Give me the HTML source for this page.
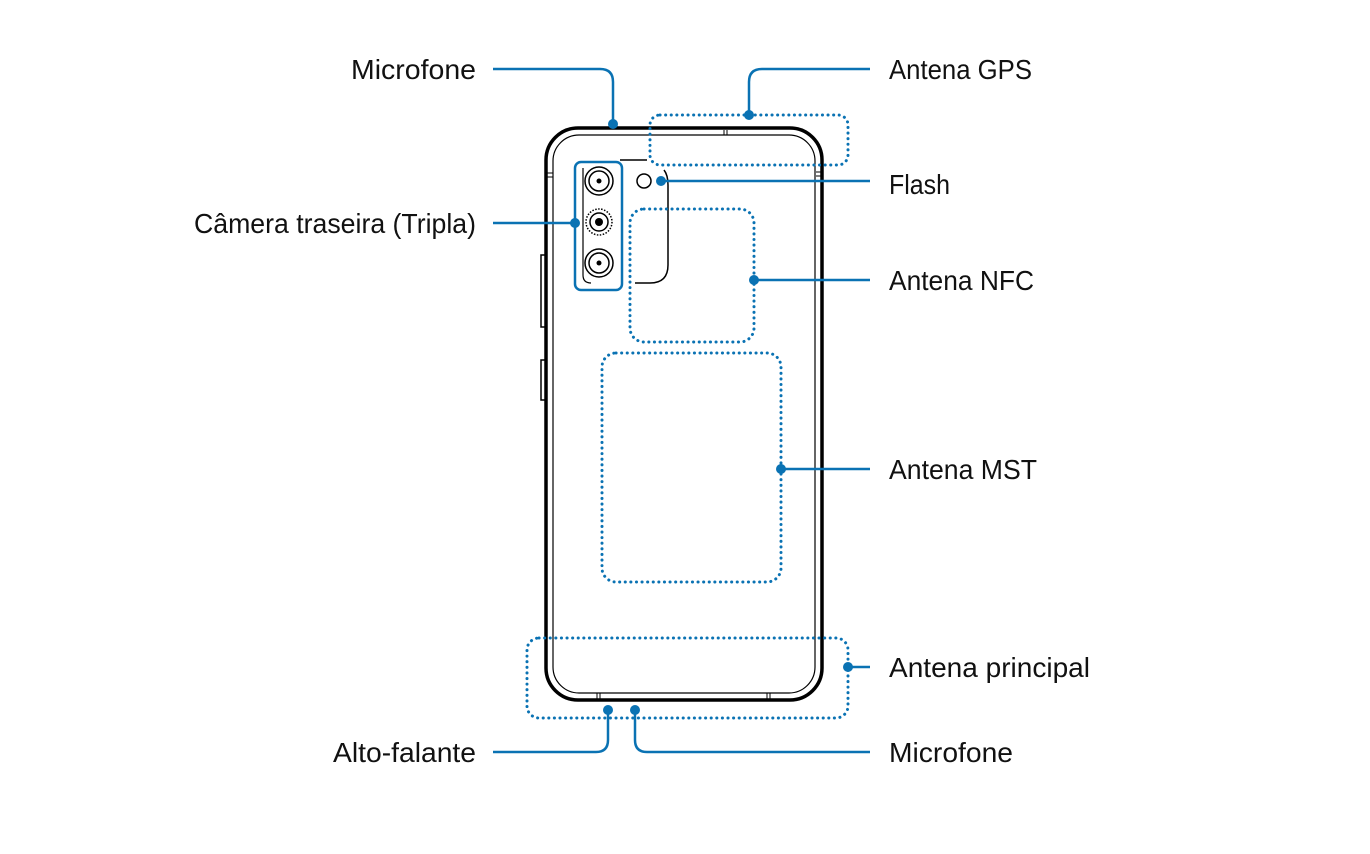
<!DOCTYPE html>
<html><head><meta charset="utf-8"><style>
html,body{margin:0;padding:0;background:#fff;}
svg{display:block}
text{font-family:"Liberation Sans",sans-serif;font-size:28px;fill:#111;}
</style></head><body>
<svg width="1370" height="854" viewBox="0 0 1370 854" xmlns="http://www.w3.org/2000/svg">
<!-- phone body -->
<rect x="546" y="128" width="276" height="572" rx="32" fill="none" stroke="#000" stroke-width="3.5"/>
<rect x="553" y="135" width="262" height="558" rx="26" fill="none" stroke="#000" stroke-width="1.2"/>
<!-- side buttons -->
<rect x="541" y="255" width="5" height="72" fill="none" stroke="#000" stroke-width="1.5"/>
<rect x="541" y="360" width="5" height="40" fill="none" stroke="#000" stroke-width="1.5"/>
<line x1="546" y1="173" x2="553" y2="173" stroke="#000" stroke-width="1"/>
<line x1="546" y1="177" x2="553" y2="177" stroke="#000" stroke-width="1"/>
<line x1="816" y1="172" x2="822" y2="172" stroke="#000" stroke-width="1"/>
<line x1="816" y1="176" x2="822" y2="176" stroke="#000" stroke-width="1"/>
<!-- notches -->
<line x1="724" y1="130" x2="724" y2="135" stroke="#000" stroke-width="1"/>
<line x1="727" y1="130" x2="727" y2="135" stroke="#000" stroke-width="1"/>
<line x1="597" y1="693" x2="597" y2="699" stroke="#000" stroke-width="1"/>
<line x1="600" y1="693" x2="600" y2="699" stroke="#000" stroke-width="1"/>
<line x1="767" y1="693" x2="767" y2="699" stroke="#000" stroke-width="1"/>
<line x1="770" y1="693" x2="770" y2="699" stroke="#000" stroke-width="1"/>
<!-- camera module -->
<path d="M620 160 H647" stroke="#000" stroke-width="1.5" fill="none"/>
<path d="M664 170 Q668 175 668 185 V265 Q668 283 650 283 H635" stroke="#000" stroke-width="1.5" fill="none"/>
<path d="M583 168 V275 Q583 283 591 283" stroke="#000" stroke-width="1.2" fill="none"/>
<g fill="none" stroke="#000" stroke-width="1.5">
<circle cx="599" cy="181" r="14"/><circle cx="599" cy="181" r="10"/>
<circle cx="599" cy="222" r="13" stroke-dasharray="1.5 1.5"/><circle cx="599" cy="222" r="9"/>
<circle cx="599" cy="263" r="14"/><circle cx="599" cy="263" r="10"/>
<circle cx="644" cy="181" r="7"/>
</g>
<circle cx="599" cy="181" r="2.5" fill="#000"/>
<circle cx="599" cy="222" r="4" fill="#000"/>
<circle cx="599" cy="263" r="2.5" fill="#000"/>
<!-- blue annotation -->
<g stroke="#0a72b3" fill="none">
<rect x="575" y="162" width="47" height="128" rx="6" stroke-width="2.5"/>
<g stroke-width="3" stroke-dasharray="0.1 5.5" stroke-linecap="round">
<rect x="650" y="115" width="198" height="50" rx="10"/>
<rect x="630" y="209" width="124" height="133" rx="14"/>
<rect x="602" y="353" width="179" height="229" rx="14"/>
<rect x="527" y="638" width="321" height="80" rx="12"/>
</g>
<g stroke-width="2.5">
<path d="M493 69 H600 Q613 69 613 82 V124"/>
<path d="M749 115 V82 Q749 69 762 69 H870"/>
<path d="M661 181 H870"/>
<path d="M493 223 H575"/>
<path d="M754 280 H870"/>
<path d="M781 469 H870"/>
<path d="M848 667 H870"/>
<path d="M608 710 V740 Q608 752 596 752 H493"/>
<path d="M635 710 V740 Q635 752 647 752 H870"/>
</g>
</g>
<g fill="#0a72b3">
<circle cx="613" cy="124" r="5"/><circle cx="749" cy="115" r="5"/>
<circle cx="661" cy="181" r="5"/><circle cx="575" cy="223" r="5"/>
<circle cx="754" cy="280" r="5"/><circle cx="781" cy="469" r="5"/>
<circle cx="848" cy="667" r="5"/><circle cx="608" cy="710" r="5"/>
<circle cx="635" cy="710" r="5"/>
</g>
<!-- labels -->
<g text-anchor="end">
<text x="476" y="79" textLength="125" lengthAdjust="spacingAndGlyphs">Microfone</text>
<text x="476" y="233" textLength="282" lengthAdjust="spacingAndGlyphs">Câmera traseira (Tripla)</text>
<text x="476" y="762" textLength="143" lengthAdjust="spacingAndGlyphs">Alto-falante</text>
</g>
<text x="889" y="79" textLength="143" lengthAdjust="spacingAndGlyphs">Antena GPS</text>
<text x="889" y="194" textLength="61" lengthAdjust="spacingAndGlyphs">Flash</text>
<text x="889" y="290" textLength="145" lengthAdjust="spacingAndGlyphs">Antena NFC</text>
<text x="889" y="479" textLength="148" lengthAdjust="spacingAndGlyphs">Antena MST</text>
<text x="889" y="677" textLength="201" lengthAdjust="spacingAndGlyphs">Antena principal</text>
<text x="889" y="762" textLength="124" lengthAdjust="spacingAndGlyphs">Microfone</text>
</svg>
</body></html>
